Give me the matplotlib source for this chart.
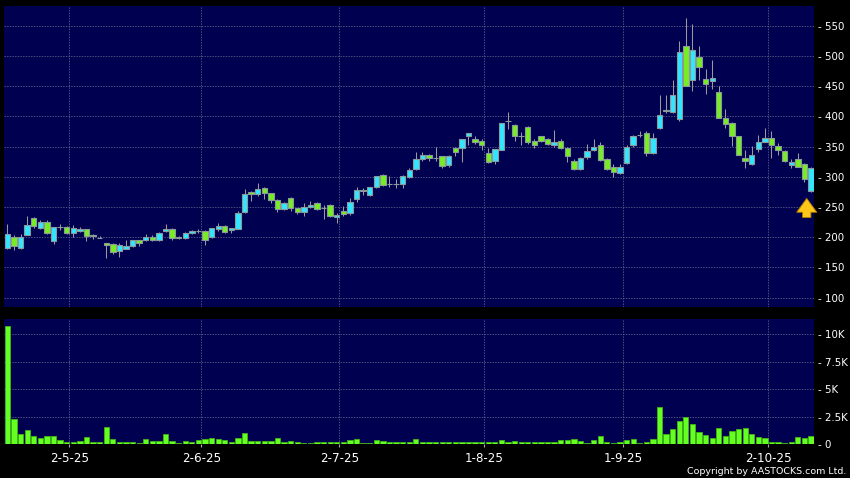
"""
AASTOCKS style daily candlestick chart with volume panel
"""
import matplotlib
matplotlib.use('Agg')
import matplotlib.pyplot as plt
import numpy as np

# --- data (one entry per trading day) ---
opens = [182, 200, 182, 204, 232, 216, 225, 193, 217, 217, 207, 210, 213, 204, 199, 190, 189, 177, 181, 186,
         195, 195, 200, 195, 210, 213, 198, 199, 207, 210, 210, 200, 213, 218, 212, 214, 242, 275, 272, 282,
         273, 262, 247, 265, 248, 242, 250, 257, 248, 253, 233, 243, 240, 264, 279, 270, 283, 303, 288, 288,
         288, 300, 313, 330, 337, 331, 334, 320, 348, 348, 368, 362, 360, 340, 326, 345, 392, 386, 368, 383,
         360, 367, 363, 352, 360, 348, 327, 313, 333, 345, 352, 330, 317, 307, 323, 353, 370, 372, 340, 381,
         411, 408, 396, 517, 460, 499, 462, 459, 441, 398, 390, 367, 332, 321, 347, 358, 365, 351, 343, 320,
         330, 322, 276]
highs = [222, 204, 205, 235, 234, 229, 229, 217, 222, 218, 220, 217, 214, 205, 202, 191, 191, 190, 195, 196,
         196, 205, 203, 209, 222, 215, 202, 208, 212, 214, 212, 216, 223, 220, 216, 243, 280, 277, 290, 283,
         274, 263, 258, 266, 249, 257, 260, 258, 254, 255, 240, 251, 265, 283, 281, 284, 302, 304, 301, 297,
         303, 314, 341, 342, 338, 349, 335, 336, 349, 363, 373, 368, 362, 348, 347, 390, 407, 388, 374, 385,
         362, 368, 365, 377, 362, 349, 330, 333, 355, 362, 358, 331, 322, 321, 352, 369, 376, 376, 373, 435,
         435, 461, 525, 563, 554, 517, 479, 494, 451, 412, 391, 368, 344, 351, 370, 381, 376, 356, 344, 329,
         339, 323, 316]
lows = [181, 179, 181, 203, 215, 213, 206, 189, 212, 205, 200, 208, 193, 197, 198, 165, 173, 168, 180, 184,
        186, 194, 194, 194, 208, 196, 197, 197, 206, 207, 188, 199, 210, 207, 207, 213, 240, 260, 268, 263,
        257, 242, 245, 243, 239, 236, 248, 245, 231, 234, 224, 236, 237, 259, 270, 268, 282, 285, 283, 282,
        281, 298, 312, 327, 327, 327, 315, 316, 334, 325, 352, 354, 345, 323, 321, 344, 380, 360, 352, 354,
        348, 357, 352, 350, 346, 325, 312, 312, 330, 343, 326, 312, 300, 304, 322, 350, 366, 335, 338, 380,
        406, 406, 392, 450, 443, 460, 438, 446, 398, 381, 351, 336, 314, 320, 341, 358, 331, 336, 325, 315,
        317, 291, 275]
closes = [205, 186, 200, 220, 218, 225, 207, 217, 217, 207, 215, 213, 202, 202, 199, 187, 176, 187, 185, 195,
          190, 200, 195, 207, 213, 198, 201, 207, 210, 210, 195, 215, 218, 208, 215, 240, 271, 271, 280, 273,
          262, 247, 257, 248, 242, 250, 253, 247, 248, 236, 237, 238, 259, 278, 276, 283, 301, 287, 288, 288,
          302, 312, 330, 337, 332, 331, 318, 335, 341, 362, 372, 358, 352, 325, 346, 389, 392, 368, 368, 358,
          353, 360, 355, 358, 348, 334, 313, 332, 343, 350, 328, 313, 308, 317, 350, 368, 370, 340, 365, 403,
          409, 435, 507, 450, 510, 482, 453, 464, 398, 388, 368, 336, 326, 337, 358, 365, 352, 345, 327, 324,
          317, 296, 314]
volumes = [10800, 2260, 915, 1310, 700, 550, 730, 760, 400, 180, 180, 275, 670, 210, 150, 1525, 490, 210, 150, 180,
           120, 430, 240, 300, 915, 300, 120, 275, 150, 365, 460, 580, 460, 400, 180, 550, 975, 300, 275, 240,
           300, 580, 180, 275, 210, 120, 90, 210, 210, 210, 210, 210, 335, 460, 120, 120, 400, 300, 150, 150,
           150, 210, 490, 150, 210, 210, 180, 180, 180, 210, 150, 150, 210, 180, 210, 365, 150, 240, 150, 150,
           150, 180, 180, 210, 400, 400, 430, 300, 120, 400, 760, 180, 120, 180, 365, 430, 120, 210, 460, 3400,
           915, 1400, 2135, 2500, 1830, 1130, 850, 580, 1430, 730, 1220, 1340, 1500, 915, 610, 580, 150, 180, 120, 150,
           640, 520, 760]

date_labels = ['2-5-25', '2-6-25', '2-7-25', '1-8-25', '1-9-25', '2-10-25']
date_pos = [9.4, 29.45, 50.4, 72.4, 93.5, 115.5]   # bar index where each label sits
price_ticks = [100, 150, 200, 250, 300, 350, 400, 450, 500, 550]
vol_ticks = [0, 2500, 5000, 7500, 10000]
vol_labels = ['0', '2.5K', '5K', '7.5K', '10K']

# --- styles ---
BG = '#000000'
PANEL = '#000050'
GRID = '#62628e'
UP = '#33e6ff'
DOWN = '#77ee22'
EDGE = '#8a9a9a'
VOL = '#66ff22'

o = np.array(opens, dtype=float)
h = np.array(highs, dtype=float)
l = np.array(lows, dtype=float)
c = np.array(closes, dtype=float)
x = np.arange(len(o))
body_col = [UP if cc >= oo else DOWN for oo, cc in zip(o, c)]

fig = plt.figure(figsize=(8.5, 4.78), dpi=100, facecolor=BG)
ax = fig.add_axes([4 / 850, 1 - 306.7 / 478, 810.3 / 850, 300.7 / 478])
ax2 = fig.add_axes([4 / 850, 1 - 444 / 478, 810.3 / 850, 125 / 478])

for a in (ax, ax2):
    a.set_facecolor(PANEL)
    for s in a.spines.values():
        s.set_visible(False)
    a.set_xlim(-0.52, len(o) - 0.5)
    a.set_xticks(date_pos)
    a.grid(True, color=GRID, linestyle=(0, (1.6, 1.6)), linewidth=0.6)
    a.set_axisbelow(True)
    a.yaxis.tick_right()
    a.tick_params(axis='y', length=0, pad=2.6, labelsize=7.4, labelcolor='white')

# candles
ax.vlines(x, l, h, color='#9a9a9a', linewidth=0.75, zorder=2)
ax.bar(x, np.abs(c - o), bottom=np.minimum(o, c), width=0.82, color=body_col,
       edgecolor=EDGE, linewidth=0.8, zorder=3)
ax.set_ylim(85, 583)
ax.set_yticks(price_ticks)
ax.set_yticklabels([f'- {v}' for v in price_ticks])
ax.tick_params(axis='x', length=0, labelbottom=False)

# arrow under the last candle
ax.annotate('', xy=(x[-1] - 0.65, 269), xytext=(x[-1] - 0.65, 228),
            arrowprops=dict(arrowstyle='simple,head_width=1.45,head_length=1.0,tail_width=0.6',
                            fc='#ffc61a', ec='#b07a00', lw=0.6), zorder=5)

# volume
ax2.bar(x, volumes, width=0.8, color=VOL, edgecolor='#3fb515', linewidth=0.6, zorder=3)
ax2.set_ylim(0, 11400)
ax2.set_yticks(vol_ticks)
ax2.set_yticklabels([f'- {v}' for v in vol_labels])
ax2.set_xticklabels(date_labels)
ax2.tick_params(axis='x', length=2.5, width=0.8, color='#aaaaaa', pad=3,
                labelsize=8.6, labelcolor='white')

fig.text(846 / 850, 1 - 471.5 / 478, 'Copyright by AASTOCKS.com Ltd.', color='white',
         fontsize=6.8, ha='right', va='center')

plt.savefig('out.png', dpi=100, facecolor=BG)
